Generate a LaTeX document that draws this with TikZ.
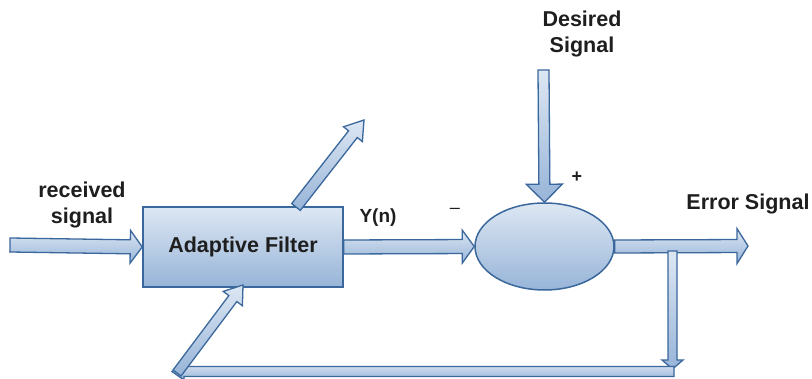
\documentclass[tikz,border=0pt]{standalone}
\usepackage{fontspec}
\setmainfont{Liberation Sans}
\usetikzlibrary{calc,shapes.geometric}
\definecolor{bord}{HTML}{3A679C}
\definecolor{ftop}{HTML}{DDE7F3}
\definecolor{fbot}{HTML}{97B4D8}
\definecolor{txt}{HTML}{1E1E1E}
\tikzset{
  blk/.style={draw=bord, line width=1.5pt, top color=ftop, bottom color=fbot, line join=miter},
  lbl/.style={text=txt, font=\fontsize{21.5}{26}\selectfont\bfseries, inner sep=0pt, align=center},
  sgn/.style={text=txt, font=\fontsize{18}{20}\selectfont\bfseries, inner sep=0pt}
}
% #1 start, #2 end, #3 shaft half width, #4 head half width, #5 head length
\newcommand{\barrow}[5]{%
  \coordinate (ba-h) at ($(#2)!#5pt!(#1)$);
  \draw[blk, line width=1.3pt] ($(#1)!#3pt!90:(#2)$) -- ($(ba-h)!#3pt!90:(#2)$) -- ($(ba-h)!#4pt!90:(#2)$) -- (#2) -- ($(ba-h)!#4pt!-90:(#2)$) -- ($(ba-h)!#3pt!-90:(#2)$) -- ($(#1)!#3pt!-90:(#2)$) -- cycle;
}
\begin{document}
\begin{tikzpicture}[x=1pt,y=-1pt]
\useasboundingbox (0,0) rectangle (812,379);
% blocks
\node[blk, rectangle, minimum width=200pt, minimum height=80pt, inner sep=0pt, lbl] (filter) at (243,247) {Adaptive Filter};
\node[blk, ellipse, minimum width=139pt, minimum height=87pt, inner sep=0pt] (sum) at (544.5,246.5) {};
% coordinates
\coordinate (in) at (10,245);
\coordinate (des) at (543.5,70);
\coordinate (err) at (748,246);
\coordinate (br) at (672.5,251);
\coordinate (brend) at (672.5,369);
\coordinate (fbstart) at (674,371.5);
\coordinate (fbtip) at (172,371.5);
\coordinate (fbl) at (177,373);
\coordinate (fbin) at (243,285);
\coordinate (tapin) at (296,207);
\coordinate (tapout) at (364,120);
% connectors
\barrow{in}{filter.west}{7}{16.5}{12}
\barrow{filter.east}{sum.west}{7}{16.5}{12}
\barrow{des}{sum.north}{5.5}{18}{18}
\barrow{sum.east}{err}{6.5}{17.5}{11}
\barrow{br}{brend}{4.5}{10.5}{9}
\barrow{fbstart}{fbtip}{5}{8.5}{12}
\barrow{fbl}{fbin}{5}{12}{17}
\barrow{tapin}{tapout}{5.5}{12}{18}
% labels
\node[lbl] (rx) at (82,204.5) {received\\signal};
\node[lbl, font=\fontsize{19}{22}\selectfont\bfseries] (yn) at (378,218) {Y(n)};
\node[text=txt, font=\fontsize{18}{20}\selectfont, inner sep=0pt] (minus) at (455,211) {–};
\node[sgn] (plus) at (577,177) {+};
\node[lbl] (dsig) at (582,33.5) {Desired\\Signal};
\node[lbl] (esig) at (748,204) {Error Signal};
\end{tikzpicture}
\end{document}
